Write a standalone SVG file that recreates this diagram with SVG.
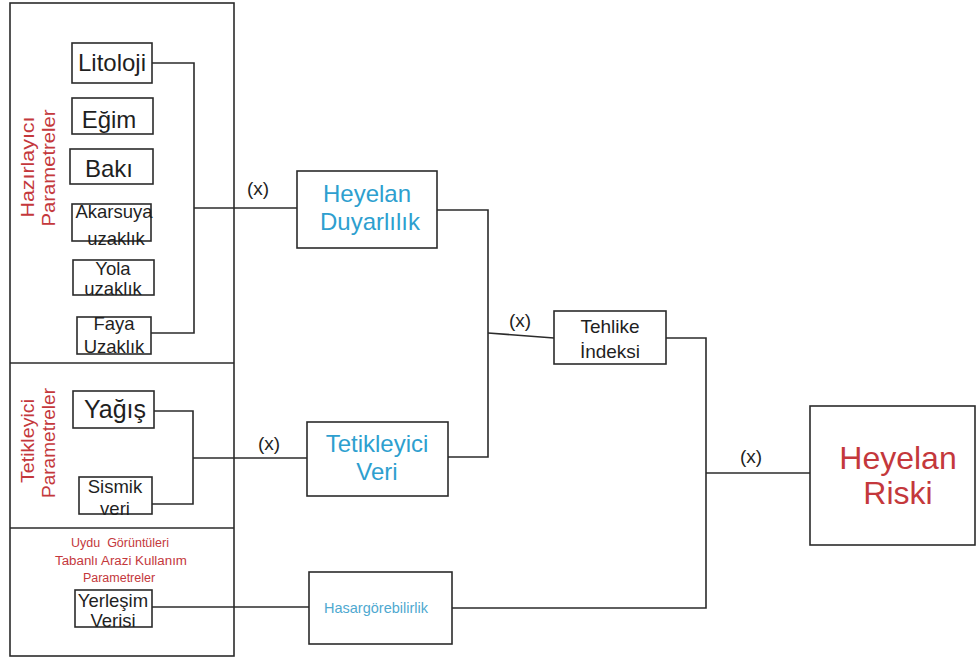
<svg xmlns="http://www.w3.org/2000/svg" width="976" height="662" viewBox="0 0 976 662">
  <style>
    .box { fill: #fff; stroke: #2b2b2b; stroke-width: 1.6; }
    .panel { fill: none; stroke: #2b2b2b; stroke-width: 1.6; }
    .wire { fill: none; stroke: #2b2b2b; stroke-width: 1.6; }
    text { font-family: "Liberation Sans", Arial, sans-serif; text-anchor: middle; }
    .k { fill: #1f1f1f; }
    .b { fill: #2e9fcf; }
    .lb { fill: #4fa9d0; }
    .r { fill: #c4383c; }
  </style>
  <rect width="976" height="662" fill="#fff"/>

  <!-- left parameter panel with three sections -->
  <g id="panel">
    <rect class="panel" x="10" y="3" width="224" height="653"/>
    <line class="panel" x1="10" y1="363" x2="234" y2="363"/>
    <line class="panel" x1="10" y1="528" x2="234" y2="528"/>
    <text class="r" font-size="18" transform="translate(34,167) rotate(-90)" textLength="101" lengthAdjust="spacingAndGlyphs">Hazırlayıcı</text>
    <text class="r" font-size="18" transform="translate(55,168) rotate(-90)" textLength="117" lengthAdjust="spacingAndGlyphs">Parametreler</text>
    <text class="r" font-size="18" transform="translate(34,441) rotate(-90)" textLength="84" lengthAdjust="spacingAndGlyphs">Tetikleyici</text>
    <text class="r" font-size="18" transform="translate(55,443) rotate(-90)" textLength="110" lengthAdjust="spacingAndGlyphs">Parametreler</text>
    <text class="r" font-size="12.5" x="120" y="547" xml:space="preserve">Uydu  Görüntüleri</text>
    <text class="r" font-size="12.5" x="121" y="565" textLength="132" lengthAdjust="spacingAndGlyphs">Tabanlı Arazi Kullanım</text>
    <text class="r" font-size="12.5" x="119" y="582">Parametreler</text>
  </g>

  <!-- connectors -->
  <g id="connectors">
    <polyline class="wire" points="152,63 194,63 194,333 151,333"/>
    <line class="wire" x1="194" y1="208" x2="297" y2="208"/>
    <polyline class="wire" points="154,411 193,411 193,504 152,504"/>
    <line class="wire" x1="193" y1="458" x2="307" y2="458"/>
    <polyline class="wire" points="437,210 488,210 488,457 448,457"/>
    <line class="wire" x1="488" y1="333" x2="554" y2="338"/>
    <polyline class="wire" points="666,338 706,338 706,608 452,608"/>
    <line class="wire" x1="706" y1="473" x2="810" y2="473"/>
    <line class="wire" x1="152" y1="607" x2="309" y2="607"/>
    <text class="k" font-size="19" x="258" y="195">(x)</text>
    <text class="k" font-size="19" x="269" y="450">(x)</text>
    <text class="k" font-size="19" x="520" y="327">(x)</text>
    <text class="k" font-size="19" x="751" y="463">(x)</text>
  </g>

  <g id="litoloji">
    <rect class="box" x="72" y="43" width="80" height="40"/>
    <text class="k" font-size="24" x="112" y="71">Litoloji</text>
  </g>
  <g id="egim">
    <rect class="box" x="72" y="98" width="81" height="36"/>
    <text class="k" font-size="24" x="109" y="128">Eğim</text>
  </g>
  <g id="baki">
    <rect class="box" x="70" y="149" width="83" height="35"/>
    <text class="k" font-size="24" x="109" y="177">Bakı</text>
  </g>
  <g id="akarsuya">
    <rect class="box" x="72" y="204" width="79" height="37"/>
    <text class="k" font-size="18.5" x="114" y="218">Akarsuya</text>
    <text class="k" font-size="18.5" x="116" y="245">uzaklık</text>
  </g>
  <g id="yola">
    <rect class="box" x="73" y="260" width="81" height="35"/>
    <text class="k" font-size="18.5" x="113" y="275">Yola</text>
    <text class="k" font-size="18.5" x="113" y="295">uzaklık</text>
  </g>
  <g id="faya">
    <rect class="box" x="77" y="317" width="74" height="37"/>
    <text class="k" font-size="18.5" x="114" y="330">Faya</text>
    <text class="k" font-size="18.5" x="114" y="353">Uzaklık</text>
  </g>
  <g id="yagis">
    <rect class="box" x="73" y="391" width="81" height="37"/>
    <text class="k" font-size="25" x="115" y="418">Yağış</text>
  </g>
  <g id="sismik">
    <rect class="box" x="79" y="477" width="73" height="37"/>
    <text class="k" font-size="18.5" x="115" y="493">Sismik</text>
    <text class="k" font-size="18.5" x="115" y="515">veri</text>
  </g>
  <g id="yerlesim">
    <rect class="box" x="75" y="590" width="77" height="37"/>
    <text class="k" font-size="18.5" x="113" y="607">Yerleşim</text>
    <text class="k" font-size="18.5" x="113" y="627">Verisi</text>
  </g>

  <g id="heyelan-duyarlilik">
    <rect class="box" x="297" y="171" width="140" height="77"/>
    <text class="b" font-size="24" x="367" y="202">Heyelan</text>
    <text class="b" font-size="24" x="370" y="230">Duyarlılık</text>
  </g>
  <g id="tetikleyici-veri">
    <rect class="box" x="307" y="422" width="141" height="74"/>
    <text class="b" font-size="24" x="377" y="452">Tetikleyici</text>
    <text class="b" font-size="24" x="377" y="480">Veri</text>
  </g>
  <g id="hasargorebilirlik">
    <rect class="box" x="309" y="572" width="143" height="72"/>
    <text class="lb" font-size="14.5" x="376" y="613">Hasargörebilirlik</text>
  </g>
  <g id="tehlike-indeksi">
    <rect class="box" x="554" y="311" width="112" height="53"/>
    <text class="k" font-size="19" x="610" y="333">Tehlike</text>
    <text class="k" font-size="19" x="610" y="358">İndeksi</text>
  </g>
  <g id="heyelan-riski">
    <rect class="box" x="810" y="406" width="165" height="139"/>
    <text class="r" font-size="32" x="898" y="469">Heyelan</text>
    <text class="r" font-size="32" x="898" y="504">Riski</text>
  </g>
</svg>
